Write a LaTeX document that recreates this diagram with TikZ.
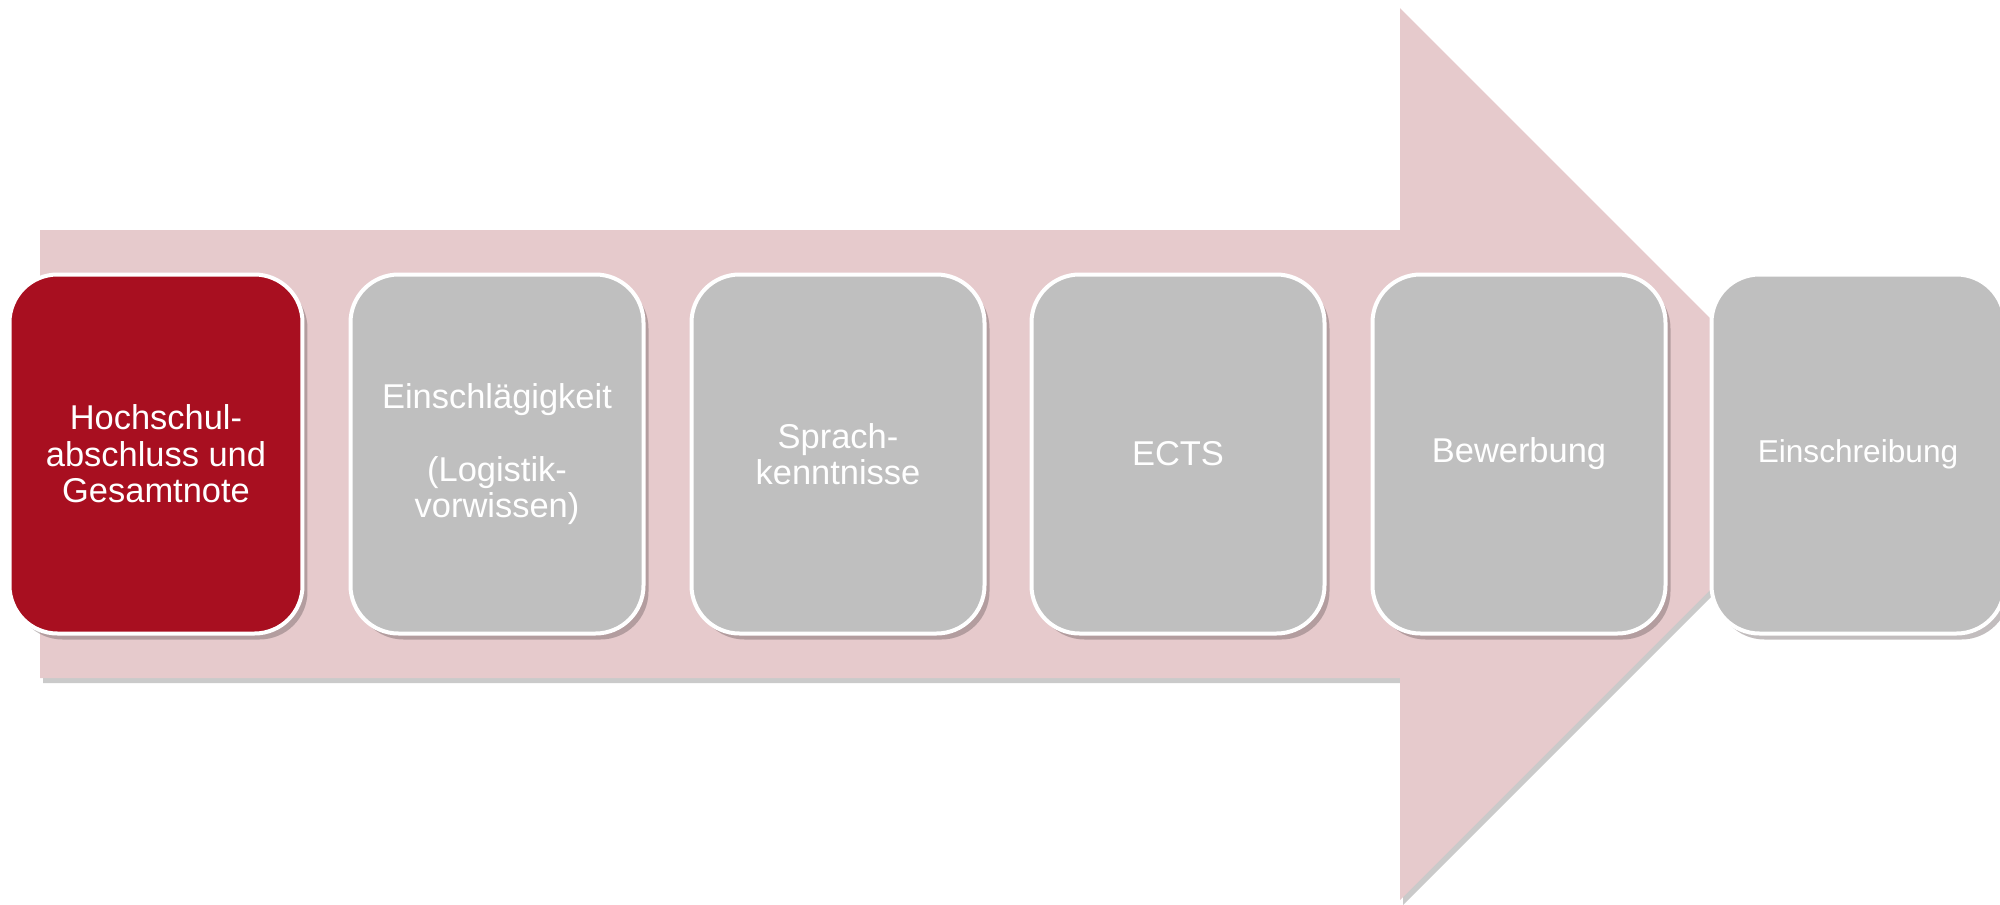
\documentclass[tikz,border=0pt]{standalone}
\usepackage{fontspec}
\setmainfont{Liberation Sans}
\usetikzlibrary{shadows}

\definecolor{arrowpink}{HTML}{E6CACC}
\definecolor{stepred}{HTML}{A80F20}
\definecolor{stepgray}{HTML}{BFBFBF}

\tikzset{
  stepbox/.style={draw=white, line width=0.4mm, rounded corners=4.8mm,
    minimum width=29.3mm, minimum height=35.9mm, inner sep=0pt,
    text=white, align=center, font=\fontsize{9.8}{10.4}\selectfont,
    drop shadow={shadow xshift=0.5mm, shadow yshift=-0.6mm,
      opacity=0.4, fill=black!55!arrowpink}},
}

\begin{document}
\begin{tikzpicture}[x=0.1mm, y=-0.1mm]
  \useasboundingbox (0,0) rectangle (2000,905);
  % big arrow behind the steps
  \fill[arrowpink, drop shadow={shadow xshift=0.3mm, shadow yshift=-0.5mm,
      opacity=0.35, fill=black!60}]
    (40,230) -- (1400,230) -- (1400,8) -- (1846,454)
    -- (1400,900) -- (1400,678) -- (40,678) -- cycle;
  % steps
  \node[stepbox, fill=stepred]  (abschluss) at (156,454) {Hochschul-\\abschluss und\\Gesamtnote};
  \node[stepbox, fill=stepgray] (einschlaegig) at (497,454) {Einschlägigkeit\\[10.4pt](Logistik-\\vorwissen)};
  \node[stepbox, fill=stepgray] (sprache) at (838,454) {Sprach-\\kenntnisse};
  \node[stepbox, fill=stepgray] (ects) at (1178,454) {ECTS};
  \node[stepbox, fill=stepgray] (bewerbung) at (1519,454) {Bewerbung};
  \node[stepbox, fill=stepgray, font=\fontsize{9}{10.4}\selectfont] (einschreibung) at (1858,454) {Einschreibung};
\end{tikzpicture}
\end{document}
